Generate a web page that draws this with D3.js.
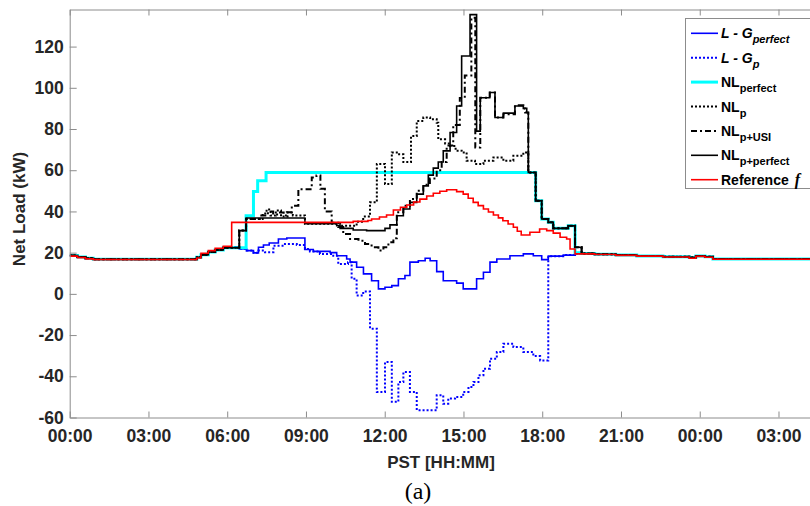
<!DOCTYPE html>
<html>
<head>
<meta charset="utf-8">
<script src="https://cdn.jsdelivr.net/npm/d3@7"></script>
<style>
  body { margin: 0; background: #fff; }
  svg { display: block; font-family: "Liberation Sans", Arial, sans-serif; }
  .axis .tick text { font-size: 17.5px; font-weight: bold; fill: #262626; }
  .axis path, .axis line { stroke: #8c8c8c; }
</style>
</head>
<body>
<script>
// ---- Data (hours since 00:00, kW) ----
var tickHours  = [0, 3, 6, 9, 12, 15, 18, 21, 24, 27];
var tickLabels = ["00:00", "03:00", "06:00", "09:00", "12:00", "15:00", "18:00", "21:00", "00:00", "03:00"];
var yTicks = [-60, -40, -20, 0, 20, 40, 60, 80, 100, 120];

// night before sunrise, shared by the net-load curves
var morningT   = [0, 0.3, 0.6, 0.9, 4.84, 5.0, 5.28, 5.54, 5.85];
var morningV   = [18.6, 17.9, 17.3, 16.8, 17.8, 19.0, 20.3, 21.3, 22.4];
var refMorningV = [18.3, 17.6, 17.0, 16.6, 17.4, 19.7, 21.0, 22.1, 23.1];
// evening / next night
var eveningT   = [19.5, 20.0, 20.8, 21.6, 22.6, 23.6, 23.85, 24.2, 24.5, 28.2];
var eveningV   = [19.6, 19.2, 18.8, 18.4, 18.0, 17.6, 18.4, 18.0, 16.9, 16.9];
var refEveningV = [19.4, 19.1, 18.7, 18.3, 17.9, 17.3, 18.2, 17.8, 16.8, 16.8];

// L - G perfect
var lgPerfT = [6.3, 6.46, 6.74, 7.0, 7.19, 7.38, 7.6, 7.95, 8.27, 8.96, 9.28, 9.92, 10.17, 10.55, 10.68, 10.93, 11.19, 11.5, 11.76, 12.01, 12.27, 12.52, 12.77, 12.96, 13.28, 13.54, 13.73, 13.98, 14.23, 14.74, 14.99, 15.5, 15.76, 16.01, 16.27, 16.77, 17.28, 17.66, 17.98, 18.23, 18.8, 19.25];
var lgPerfV = [22.7, 21.8, 21.0, 19.9, 22.6, 23.7, 24.7, 26.6, 27.1, 21.5, 20.6, 20.0, 18.5, 16.9, 15.4, 12.9, 9.7, 6.4, 2.4, 3.2, 4.0, 7.3, 8.9, 15.4, 16.1, 17.3, 16.1, 10.8, 6.4, 5.2, 2.4, 7.3, 10.5, 15.4, 16.9, 18.5, 19.4, 18.5, 16.6, 18.3, 18.8, 19.5];

// L - G p
var lgPT = [6.3, 6.46, 6.74, 7.0, 7.19, 7.44, 7.76, 8.2, 8.65, 8.96, 9.15, 9.53, 10.04, 10.23, 10.6, 10.74, 10.93, 11.18, 11.44, 11.7, 12.01, 12.27, 12.52, 12.71, 12.96, 13.22, 13.98, 14.23, 14.42, 14.68, 14.99, 15.19, 15.38, 15.57, 15.76, 16.01, 16.27, 16.52, 16.9, 17.28, 17.66, 17.92, 18.23, 18.8, 19.25];
var lgPV = [22.7, 21.8, 21.0, 19.9, 21.0, 20.2, 23.4, 24.2, 23.7, 21.8, 20.6, 19.4, 18.5, 14.5, 15.4, 7.3, -0.8, 1.1, -16.9, -47.6, -33.1, -52.4, -42.8, -37.9, -47.6, -56.5, -49.2, -53.3, -50.8, -50.0, -47.6, -45.2, -42.8, -39.5, -36.3, -31.5, -28.2, -24.2, -25.8, -28.2, -30.2, -32.3, 18.3, 18.8, 19.5];

// NL perfect
var nlPerfT = [6.72, 7.0, 7.16, 7.48, 17.75, 17.98, 18.23, 18.42, 18.99, 19.25];
var nlPerfV = [37.9, 49.7, 54.9, 58.9, 45.2, 36.3, 34.7, 31.8, 33.0, 19.9];

// NL p
var nlPT = [6.46, 6.72, 7.35, 7.5, 7.65, 7.85, 8.05, 8.3, 8.5, 8.96, 10.3, 10.93, 11.18, 11.44, 11.7, 12.01, 12.27, 12.46, 12.71, 13.0, 13.22, 13.47, 13.73, 13.98, 14.04, 14.3, 14.49, 14.7, 14.93, 15.12, 15.44, 15.76, 16.14, 16.52, 16.9, 17.28, 17.47, 17.75, 17.98, 18.23, 18.42, 18.99, 19.25];
var nlPV = [30.7, 36.3, 39.0, 41.0, 38.0, 40.5, 37.5, 39.5, 38.0, 34.0, 33.0, 35.0, 37.5, 44.4, 63.0, 53.3, 68.6, 67.8, 64.0, 76.6, 83.9, 85.6, 84.7, 83.1, 75.0, 73.0, 71.8, 69.5, 68.6, 64.6, 63.0, 64.6, 66.2, 64.6, 67.0, 68.6, 58.9, 45.2, 36.3, 34.7, 31.8, 33.0, 22.6];

// NL p+USI
var nlUsiT = [6.46, 6.72, 7.3, 7.55, 7.75, 7.95, 8.15, 8.27, 8.46, 8.71, 9.22, 9.4, 9.55, 9.72, 9.98, 10.23, 10.42, 10.68, 11.0, 11.25, 11.5, 11.76, 11.95, 12.14, 12.33, 12.46, 12.71, 12.96, 13.22, 13.47, 13.72, 13.98, 14.17, 14.36, 14.61, 14.86, 15.05, 15.3, 15.45, 15.64, 16.0, 16.2, 16.52, 16.96, 17.28, 17.35, 17.47, 17.75, 17.98, 18.23, 18.42, 18.99, 19.25];
var nlUsiV = [30.7, 36.3, 38.0, 40.0, 38.5, 39.5, 38.0, 39.6, 42.8, 50.8, 56.5, 57.5, 51.0, 40.0, 34.5, 32.5, 29.0, 26.6, 25.8, 24.2, 22.6, 21.0, 22.6, 25.0, 27.0, 39.6, 42.8, 46.0, 50.0, 53.0, 56.0, 60.0, 64.0, 72.0, 82.0, 95.0, 106.0, 134.0, 71.0, 95.2, 97.7, 85.6, 87.2, 91.5, 90.0, 88.0, 58.9, 45.2, 36.3, 34.7, 31.8, 33.0, 22.6];

// NL p+perfect
var nlPpT = [6.46, 6.72, 8.96, 10.17, 10.3, 10.8, 11.31, 12.01, 12.2, 12.46, 12.71, 12.96, 13.22, 13.47, 13.66, 13.85, 14.04, 14.23, 14.49, 14.74, 14.93, 15.25, 15.5, 15.64, 16.0, 16.2, 16.52, 16.96, 17.28, 17.41, 17.47, 17.75, 17.98, 18.23, 18.42, 18.99, 19.25];
var nlPpV = [30.7, 36.8, 34.0, 33.1, 31.8, 31.0, 30.7, 31.8, 33.5, 37.9, 41.2, 44.4, 48.4, 52.4, 57.6, 61.0, 64.0, 69.4, 78.3, 91.2, 115.4, 135.5, 79.0, 95.2, 97.7, 85.6, 87.7, 91.2, 90.0, 88.0, 58.9, 45.2, 36.3, 34.7, 31.8, 33.0, 22.6];

// Reference f
var refT = [6.17, 10.8, 11.36, 11.5, 11.8, 12.07, 12.33, 12.6, 12.84, 13.1, 13.34, 13.6, 13.85, 14.1, 14.36, 14.74, 14.99, 15.18, 15.37, 15.56, 15.76, 15.95, 16.14, 16.33, 16.5, 16.7, 16.9, 17.05, 17.2, 17.53, 17.9, 18.17, 18.42, 18.68, 18.93, 19.06, 19.25];
var refV = [34.7, 35.2, 35.6, 36.3, 37.3, 38.3, 40.7, 42.0, 43.1, 44.6, 46.0, 47.5, 48.8, 49.8, 50.5, 49.6, 48.4, 46.4, 44.4, 42.8, 41.2, 39.7, 38.3, 36.9, 35.5, 33.9, 32.3, 30.4, 28.6, 29.9, 31.5, 30.7, 29.5, 27.5, 26.6, 21.8, 19.4];

// ---- Layout ----
var W = 810, H = 506;
var plot = { left: 69.7, right: 810, top: 9.5, bottom: 417.5 };

var svg = d3.select("body").append("svg")
    .attr("width", W)
    .attr("height", H);

svg.append("rect").attr("width", W).attr("height", H).attr("fill", "#fff");

var x = d3.scaleLinear().domain([0, 28.2]).range([plot.left, plot.right]);
var y = d3.scaleLinear().domain([-60, 138]).range([plot.bottom, plot.top]);

// join night / day / evening pieces into one list of points
function build(partsT, partsV) {
    var pts = [];
    partsT.forEach(function (ts, i) {
        ts.forEach(function (t, j) { pts.push({ t: t, v: partsV[i][j] }); });
    });
    return pts;
}

var series = [
    { data: build([morningT, lgPerfT, eveningT], [morningV, lgPerfV, eveningV]), color: "#0000ff", width: 1.6, dash: null },
    { data: build([morningT, lgPT, eveningT], [morningV, lgPV, eveningV]), color: "#0000ff", width: 2, dash: "2,2" },
    { data: build([morningT, nlPerfT, eveningT], [morningV, nlPerfV, eveningV]), color: "#00ffff", width: 3, dash: null },
    { data: build([morningT, nlPT, eveningT], [morningV, nlPV, eveningV]), color: "#000", width: 2, dash: "2,2" },
    { data: build([morningT, nlUsiT, eveningT], [morningV, nlUsiV, eveningV]), color: "#000", width: 2, dash: "6,3,2,3" },
    { data: build([morningT, nlPpT, eveningT], [morningV, nlPpV, eveningV]), color: "#000", width: 1.6, dash: null },
    { data: build([morningT, refT, eveningT], [refMorningV, refV, refEveningV]), color: "#ff0000", width: 1.6, dash: null }
];

svg.append("clipPath").attr("id", "plotClip")
  .append("rect")
    .attr("x", plot.left).attr("y", plot.top)
    .attr("width", plot.right - plot.left).attr("height", plot.bottom - plot.top);

var line = d3.line()
    .curve(d3.curveStepAfter)
    .x(function (d) { return x(d.t); })
    .y(function (d) { return y(d.v); });

var lines = svg.append("g").attr("clip-path", "url(#plotClip)");
lines.selectAll("path")
    .data(series)
    .enter().append("path")
    .attr("d", function (d) { return line(d.data); })
    .attr("fill", "none")
    .attr("stroke", function (d) { return d.color; })
    .attr("stroke-width", function (d) { return d.width; })
    .attr("stroke-dasharray", function (d) { return d.dash; });

// ---- Axes (inward ticks, box line on top) ----
var xAxis = d3.axisBottom(x)
    .tickValues(tickHours)
    .tickFormat(function (d, i) { return tickLabels[i]; })
    .tickSizeInner(-6).tickSizeOuter(0).tickPadding(12);
svg.append("g").attr("class", "axis")
    .attr("transform", "translate(0," + plot.bottom + ")")
    .call(xAxis);

var xTop = d3.axisTop(x)
    .tickValues(tickHours)
    .tickFormat("")
    .tickSizeInner(-6).tickSizeOuter(0);
svg.append("g").attr("class", "axis")
    .attr("transform", "translate(0," + plot.top + ")")
    .call(xTop);

var yAxis = d3.axisLeft(y)
    .tickValues(yTicks)
    .tickFormat(function (d) { return String(d); })   // plain hyphen minus
    .tickSizeInner(-7).tickSizeOuter(0).tickPadding(6);
svg.append("g").attr("class", "axis")
    .attr("transform", "translate(" + plot.left + ",0)")
    .call(yAxis);

svg.selectAll(".axis .domain").attr("stroke", "#8c8c8c");

// axis titles
svg.append("text")
    .attr("transform", "translate(25,209) rotate(-90)")
    .attr("text-anchor", "middle")
    .attr("font-size", "17px").attr("font-weight", "bold").attr("fill", "#262626")
    .text("Net Load (kW)");

svg.append("text")
    .attr("x", 441).attr("y", 468)
    .attr("text-anchor", "middle")
    .attr("font-size", "17px").attr("font-weight", "bold").attr("fill", "#262626")
    .text("PST [HH:MM]");

svg.append("text")
    .attr("x", 418).attr("y", 499)
    .attr("text-anchor", "middle")
    .attr("font-family", "Liberation Serif, Times New Roman, serif")
    .attr("font-size", "24px").attr("fill", "#000")
    .text("(a)");

// ---- Legend ----
var legendMain = ["L - G", "L - G", "NL", "NL", "NL", "NL", "Reference"];
var legendSub  = ["perfect", "p", "perfect", "p", "p+USI", "p+perfect", ""];
var legendItalic = [true, true, false, false, false, false, false];

var legend = svg.append("g");
legend.append("rect")
    .attr("x", 685.5).attr("y", 18.5)
    .attr("width", 130).attr("height", 170)
    .attr("fill", "#fff").attr("stroke", "#8c8c8c").attr("stroke-width", 1);

series.forEach(function (s, i) {
    var cy = 33.3 + i * 24.4;
    legend.append("line")
        .attr("x1", 691).attr("x2", 718)
        .attr("y1", cy).attr("y2", cy)
        .attr("stroke", s.color)
        .attr("stroke-width", s.width)
        .attr("stroke-dasharray", s.dash);
    var t = legend.append("text")
        .attr("x", 721).attr("y", cy + 5)
        .attr("font-size", "14px").attr("font-weight", "bold").attr("fill", "#000")
        .attr("font-style", legendItalic[i] ? "italic" : "normal")
        .text(legendMain[i]);
    if (legendSub[i]) {
        t.append("tspan")
            .attr("dy", 5)
            .attr("font-size", "11px")
            .text(legendSub[i]);
    } else {
        t.append("tspan")
            .attr("dx", 6)
            .attr("font-family", "Liberation Serif, Times New Roman, serif")
            .attr("font-style", "italic")
            .attr("font-size", "16px")
            .text("f");
    }
});
</script>
</body>
</html>
